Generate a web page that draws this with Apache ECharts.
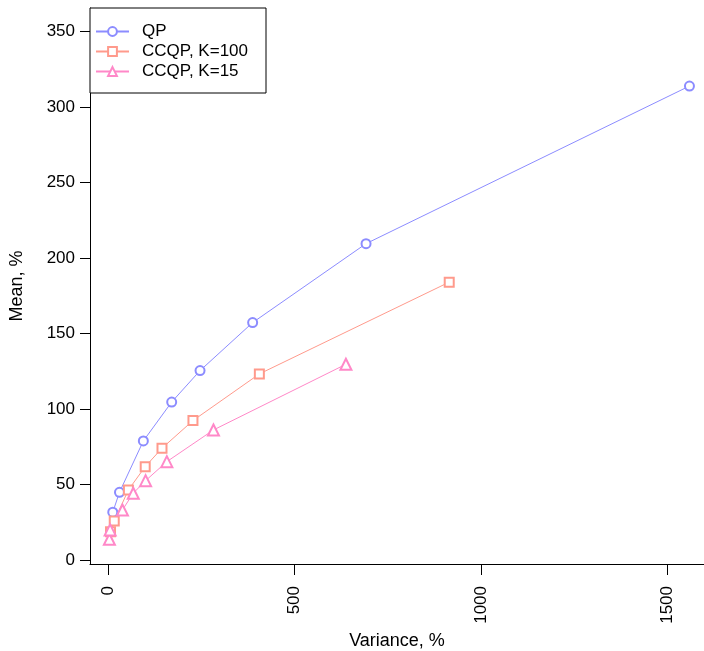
<!DOCTYPE html>
<html>
<head>
<meta charset="utf-8">
<script src="https://cdn.jsdelivr.net/npm/echarts@6/dist/echarts.min.js"></script>
<style>
html,body{margin:0;padding:0;background:#fff;}
#chart{width:704px;height:651px;}
</style>
</head>
<body>
<div id="chart"></div>
<script>
const seriesNames = ['QP', 'CCQP, K=100', 'CCQP, K=15'];
const qpVariance = [13, 31, 95, 171, 247, 388, 692, 1559];
const qpMean = [31.6, 44.8, 78.8, 104.6, 125.4, 157.2, 209.5, 313.9];
const k100Variance = [7, 17, 55, 100, 145, 228, 406, 915];
const k100Mean = [18.7, 25.8, 46.4, 61.8, 74, 92.3, 123.2, 184];
const k15Variance = [4, 6, 39, 68, 101, 158, 283, 638];
const k15Mean = [13.7, 19.9, 33.1, 44.2, 52.5, 65.1, 86.1, 129.6];
const xTicks = [0, 500, 1000, 1500];
const yTicks = [0, 50, 100, 150, 200, 250, 300, 350];

const colors = ['#8c8cff', '#ff9a8c', '#ff88c8'];
const symbols = ['emptyCircle', 'emptyRect', 'emptyTriangle'];
const symbolSizes = [9, 9, 11];
const pairs = (xs, ys) => xs.map((x, i) => [x, ys[i]]);
const data = [pairs(qpVariance, qpMean), pairs(k100Variance, k100Mean), pairs(k15Variance, k15Mean)];

const font = 'Liberation Sans, Arial, Helvetica, sans-serif';
const chart = echarts.init(document.getElementById('chart'), null, {renderer: 'canvas'});
chart.setOption({
  backgroundColor: '#fff',
  animation: false,
  grid: {left: 90, top: 8, right: 0, bottom: 87, containLabel: false, outerBoundsMode: 'none'},
  xAxis: {
    type: 'value', min: -48, max: 1598,
    name: 'Variance, %', nameLocation: 'middle', nameGap: 64,
    nameTextStyle: {fontSize: 18, color: '#000', fontFamily: font},
    axisLine: {show: true, onZero: false, lineStyle: {color: '#000', width: 1}},
    axisTick: {show: true, length: 11, customValues: xTicks, lineStyle: {color: '#000'}},
    axisLabel: {customValues: xTicks, rotate: 90, margin: 22, fontSize: 17, color: '#000', fontFamily: font,
      formatter: v => String(v)},
    splitLine: {show: false}
  },
  yAxis: {
    type: 'value', min: -2.7, max: 365.6,
    name: 'Mean, %', nameLocation: 'middle', nameGap: 64, nameRotate: 90,
    nameTextStyle: {fontSize: 18, color: '#000', fontFamily: font},
    axisLine: {show: true, onZero: false, lineStyle: {color: '#000', width: 1}},
    axisTick: {show: true, length: 10, customValues: yTicks, lineStyle: {color: '#000'}},
    axisLabel: {customValues: yTicks, margin: 15, fontSize: 17, color: '#000', fontFamily: font,
      formatter: v => String(v)},
    splitLine: {show: false}
  },
  legend: {
    left: 90, top: 8, orient: 'vertical',
    backgroundColor: '#fff', borderColor: '#000', borderWidth: 1, borderRadius: 0,
    padding: [15, 18, 13, 5],
    itemWidth: 33, itemHeight: 11, itemGap: 3,
    textStyle: {fontSize: 17, color: '#000', fontFamily: font, padding: [0, 0, 0, 8]},
    data: seriesNames
  },
  series: seriesNames.map((n, i) => ({
    name: n, type: 'line', data: data[i],
    symbol: symbols[i], symbolSize: symbolSizes[i], showAllSymbol: true,
    lineStyle: {color: colors[i], width: 1},
    itemStyle: {color: colors[i], borderColor: colors[i], borderWidth: 1},
    emphasis: {disabled: true}
  }))
});
</script>
</body>
</html>
